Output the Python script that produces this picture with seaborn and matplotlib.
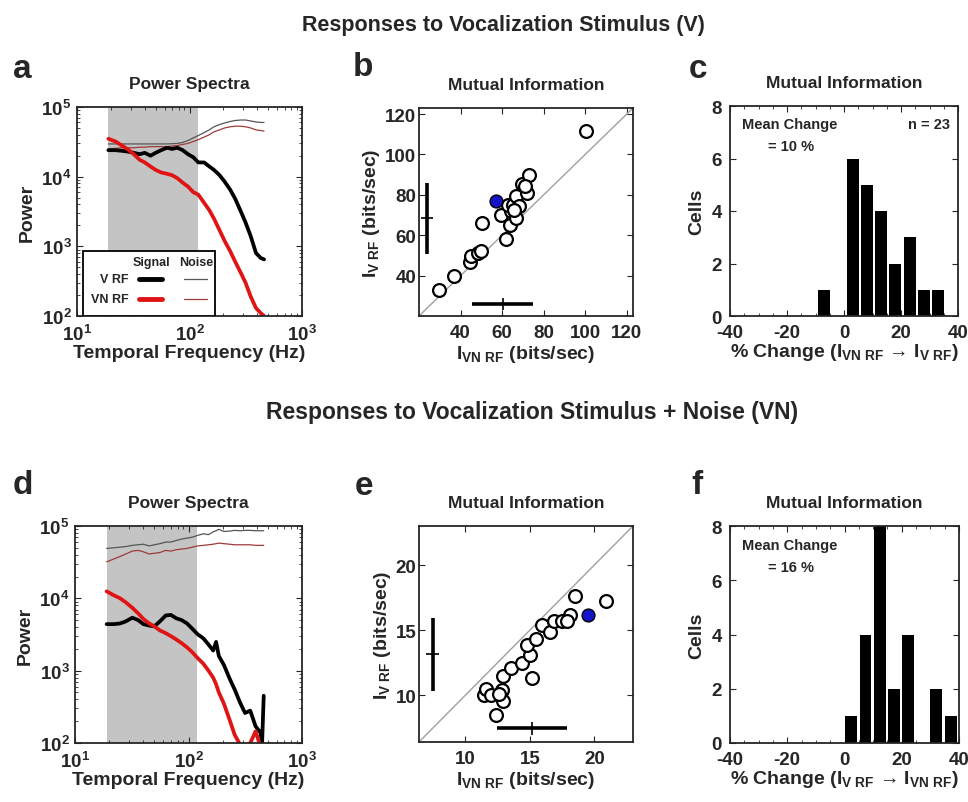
import numpy as np
import seaborn as sns
import matplotlib
matplotlib.use("Agg")
import matplotlib.pyplot as plt
from matplotlib.ticker import MultipleLocator, LogLocator

# ---- panel a: power spectra, vocalization stimulus (V)
freq_a = [19, 22, 25, 28, 32, 36, 40, 45, 50, 56, 63, 70, 78, 87, 97, 108, 120,
          135, 150, 165, 185, 205, 230, 255, 285, 315, 350, 390, 430, 460]
sig_v_a = [2.4e4, 2.4e4, 2.35e4, 2.3e4, 2.2e4, 2.1e4, 2.2e4, 2.0e4, 2.2e4, 2.4e4,
           2.6e4, 2.5e4, 2.6e4, 2.4e4, 2.1e4, 1.9e4, 1.6e4, 1.6e4, 1.4e4, 1.25e4,
           1.05e4, 8.5e3, 6.5e3, 4.8e3, 3.2e3, 2.2e3, 1.4e3, 8.0e2, 6.8e2, 6.5e2]
sig_vn_a = [3.5e4, 3.2e4, 2.8e4, 2.5e4, 2.1e4, 1.75e4, 1.6e4, 1.4e4, 1.25e4, 1.15e4,
            1.1e4, 1.05e4, 9.5e3, 8.2e3, 7.2e3, 6.0e3, 5.5e3, 4.2e3, 3.3e3, 2.5e3,
            1.7e3, 1.2e3, 8.5e2, 6.0e2, 4.2e2, 3.0e2, 1.9e2, 1.3e2, 1.1e2, 1.0e2]
noise_v_a = [2.95e4, 2.95e4, 2.95e4, 2.95e4, 2.95e4, 2.95e4, 2.95e4, 2.95e4, 2.95e4,
             2.95e4, 2.95e4, 2.97e4, 3.0e4, 3.1e4, 3.3e4, 3.6e4, 3.9e4, 4.3e4, 4.7e4,
             5.2e4, 5.6e4, 5.9e4, 6.2e4, 6.4e4, 6.5e4, 6.5e4, 6.3e4, 6.1e4, 6.0e4, 6.0e4]
noise_vn_a = [2.5e4, 2.55e4, 2.6e4, 2.6e4, 2.6e4, 2.65e4, 2.65e4, 2.7e4, 2.7e4, 2.7e4,
              2.7e4, 2.75e4, 2.8e4, 2.9e4, 3.0e4, 3.2e4, 3.4e4, 3.7e4, 4.0e4, 4.4e4,
              4.7e4, 5.0e4, 5.2e4, 5.3e4, 5.3e4, 5.2e4, 5.0e4, 4.7e4, 4.6e4, 4.5e4]

# ---- panel d: power spectra, vocalization + noise (VN)
freq_d = [19, 22, 25, 28, 32, 36, 40, 45, 50, 56, 63, 70, 78, 87, 97, 108, 120,
          135, 150, 165, 175, 185, 205, 230, 255, 285, 315, 350, 390, 430, 445, 460]
sig_v_d = [4.4e3, 4.4e3, 4.5e3, 4.8e3, 5.4e3, 5.0e3, 4.4e3, 4.2e3, 4.1e3, 4.8e3,
           5.8e3, 5.9e3, 5.3e3, 5.0e3, 4.5e3, 3.8e3, 3.2e3, 2.8e3, 2.3e3, 1.9e3,
           2.5e3, 1.6e3, 1.2e3, 7.8e2, 5.5e2, 3.6e2, 2.6e2, 2.8e2, 1.7e2, 1.4e2,
           1.0e2, 4.5e2]
sig_vn_d = [1.25e4, 1.1e4, 1.0e4, 8.8e3, 7.4e3, 6.2e3, 5.2e3, 4.5e3, 4.1e3, 3.6e3,
            3.3e3, 3.0e3, 2.7e3, 2.4e3, 2.1e3, 1.8e3, 1.5e3, 1.25e3, 1.0e3, 8.0e2,
            6.5e2, 5.0e2, 3.5e2, 2.1e2, 1.3e2, 9.5e1, 9.0e1, 1.0e2, 1.45e2, 9.0e1,
            9.0e1, 9.0e1]
noise_v_d = [4.9e4, 5.0e4, 5.1e4, 5.2e4, 5.4e4, 5.5e4, 5.6e4, 5.3e4, 5.5e4, 5.7e4,
             6.0e4, 6.0e4, 6.3e4, 6.6e4, 6.8e4, 7.0e4, 7.4e4, 7.8e4, 7.6e4, 8.3e4,
             8.6e4, 9.0e4, 8.4e4, 8.5e4, 8.7e4, 8.6e4, 8.7e4, 8.7e4, 8.6e4, 8.6e4,
             8.6e4, 8.6e4]
noise_vn_d = [3.2e4, 3.5e4, 3.8e4, 4.1e4, 4.5e4, 4.6e4, 4.4e4, 4.1e4, 4.2e4, 4.3e4,
              4.6e4, 4.5e4, 4.7e4, 4.8e4, 4.9e4, 5.1e4, 5.3e4, 5.4e4, 5.5e4, 5.6e4,
              5.7e4, 5.8e4, 5.7e4, 5.6e4, 5.5e4, 5.5e4, 5.5e4, 5.5e4, 5.4e4, 5.4e4,
              5.4e4, 5.4e4]
band = (19, 118)  # shaded frequency band

# ---- panel b: mutual information, V stimulus (bits/sec)
mi_vn_b = [29.4, 36.7, 44.6, 44.9, 48.2, 49.8, 50.2, 62.0, 63.7, 59.6, 64.5, 66.9,
           62.9, 65.3, 66.9, 71.8, 69.4, 73.1, 100.4, 68.0, 70.8, 65.8]
mi_v_b = [33.1, 39.7, 46.9, 49.8, 51.4, 52.2, 66.2, 58.0, 65.3, 70.2, 71.8, 68.6,
          75.1, 75.1, 79.5, 80.8, 85.4, 89.8, 111.8, 74.6, 84.6, 72.5]
blue_b = (57.1, 76.7)
mean_b = (60.2, 68.3)
sd_b = (14.6, 17.7)

# ---- panel e: mutual information, VN stimulus (bits/sec)
mi_vn_e = [11.43, 11.6, 11.95, 12.34, 12.86, 12.94, 12.94, 13.5, 14.4, 15.01, 14.75,
           15.19, 15.5, 15.97, 16.55, 16.88, 17.53, 18.1, 18.49, 20.9, 17.85, 12.6]
mi_v_e = [10.03, 10.5, 10.0, 8.47, 10.4, 9.57, 11.45, 12.06, 12.44, 13.05, 13.89,
          11.35, 14.33, 15.42, 14.83, 15.67, 15.67, 16.18, 17.63, 17.2, 15.7, 10.1]
blue_e = (19.48, 16.13)
mean_e = (15.17, 13.13)
sd_e = (2.7, 2.8)

# ---- panels c, f: histograms of % change
bins_c = [-7, -2, 3, 8, 13, 18, 23, 28, 33]
cells_c = [1, 0, 6, 5, 4, 2, 3, 1, 1]
bins_f = [2.4, 7.35, 12.3, 17.25, 22.2, 27.15, 32.1, 37.05]
cells_f = [1, 4, 8, 2, 4, 0, 2, 1]

sns.set_style("ticks")
plt.rcParams["font.family"] = ["Liberation Sans", "DejaVu Sans"]
plt.rcParams.update({
    "font.weight": "bold",
    "axes.labelweight": "bold",
    "axes.titleweight": "bold",
    "axes.unicode_minus": False,
    "mathtext.fontset": "custom",
    "mathtext.rm": "Liberation Sans:bold",
    "mathtext.it": "Liberation Sans:bold",
    "mathtext.bf": "Liberation Sans:bold",
    "mathtext.default": "rm",
    "axes.linewidth": 1.3,
    "xtick.direction": "in",
    "ytick.direction": "in",
    "xtick.top": True,
    "ytick.right": True,
    "xtick.major.size": 4,
    "ytick.major.size": 4,
    "xtick.minor.size": 2,
    "ytick.minor.size": 2,
    "xtick.major.pad": 6,
    "ytick.major.pad": 4,
    "xtick.labelsize": 13.5,
    "ytick.labelsize": 13.5,
    "axes.labelsize": 14,
    "axes.titlesize": 12.5,
})

W, H = 968, 803
fig = plt.figure(figsize=(W / 100, H / 100), dpi=100)


def box(x0, y0, x1, y1):
    return [x0 / W, 1 - y1 / H, (x1 - x0) / W, (y1 - y0) / H]


ax_a = fig.add_axes(box(77, 108, 302, 317))
ax_b = fig.add_axes(box(419, 109, 633, 317))
ax_c = fig.add_axes(box(730, 107, 958, 317))
ax_d = fig.add_axes(box(75, 527, 302, 744))
ax_e = fig.add_axes(box(419, 527, 633, 743))
ax_f = fig.add_axes(box(730, 527, 959, 744))

RED = "#e01414"
NOISE_V = "#555555"
NOISE_VN = "#a03a3a"


def spectra(ax, f, sv, svn, nv, nvn, legend=False):
    ax.axvspan(*band, color="#c4c4c4", lw=0, zorder=0)
    sns.lineplot(x=f, y=nv, ax=ax, color=NOISE_V, lw=0.9)
    sns.lineplot(x=f, y=nvn, ax=ax, color=NOISE_VN, lw=0.9)
    sns.lineplot(x=f, y=sv, ax=ax, color="black", lw=2.7)
    sns.lineplot(x=f, y=svn, ax=ax, color=RED, lw=2.7)
    ax.set_xscale("log")
    ax.set_yscale("log")
    ax.set_xlim(10, 1000)
    ax.set_ylim(1e2, 1e5)
    ax.xaxis.set_major_locator(LogLocator(base=10, numticks=5))
    ax.yaxis.set_major_locator(LogLocator(base=10, numticks=5))
    ax.set_xlabel("Temporal Frequency (Hz)", labelpad=0)
    ax.set_ylabel("Power", labelpad=4)
    ax.set_title("Power Spectra", pad=14)
    if legend:
        t = ax.transAxes
        ax.add_patch(plt.Rectangle((0.027, 0.0), 0.586, 0.311, transform=t,
                                   facecolor="white", edgecolor="black", lw=1.3,
                                   zorder=5))
        kw = dict(transform=t, fontsize=9, fontweight="bold", zorder=6,
                  va="center")
        ax.text(0.33, 0.258, "Signal", ha="center", **kw)
        ax.text(0.53, 0.258, "Noise", ha="center", **kw)
        ax.text(0.231, 0.177, "V RF", ha="right", **kw)
        ax.text(0.231, 0.081, "VN RF", ha="right", **kw)
        ax.plot([0.276, 0.378], [0.177, 0.177], color="black", lw=3.5,
                transform=t, zorder=6)
        ax.plot([0.276, 0.378], [0.081, 0.081], color=RED, lw=3.5,
                transform=t, zorder=6)
        ax.plot([0.476, 0.578], [0.177, 0.177], color=NOISE_V, lw=0.9,
                transform=t, zorder=6)
        ax.plot([0.476, 0.578], [0.081, 0.081], color=NOISE_VN, lw=0.9,
                transform=t, zorder=6)


def scatter(ax, x, y, blue, mean, sd, lims, ticks, bar_pos, tick_half):
    ax.plot(lims, lims, color="#a0a0a0", lw=1.0, zorder=1)
    sns.scatterplot(x=x, y=y, ax=ax, s=85, color="white", edgecolor="black",
                    linewidth=1.6, zorder=3)
    sns.scatterplot(x=[blue[0]], y=[blue[1]], ax=ax, s=85, color="#1414c8",
                    edgecolor="black", linewidth=1.0, zorder=4)
    ax.errorbar(bar_pos[0], mean[1], yerr=sd[1], color="black", lw=2.6)
    ax.errorbar(bar_pos[0], mean[1], xerr=tick_half, color="black", lw=1.2)
    ax.errorbar(mean[0], bar_pos[1], xerr=sd[0], color="black", lw=2.6)
    ax.errorbar(mean[0], bar_pos[1], yerr=tick_half, color="black", lw=1.2)
    ax.set_xlim(lims)
    ax.set_ylim(lims)
    ax.set_xticks(ticks)
    ax.set_yticks(ticks)
    ax.tick_params(axis="y", pad=2)
    ax.set_xlabel(r"$I_{VN\ RF}$ (bits/sec)", labelpad=1)
    ax.set_ylabel(r"$I_{V\ RF}$ (bits/sec)", labelpad=2)
    ax.set_title("Mutual Information", pad=14)


def hist(ax, centers, counts, xlabel, mean_txt, n_txt=None):
    width = centers[1] - centers[0]
    edges = [c - width / 2 for c in centers] + [centers[-1] + width / 2]
    sns.histplot(x=centers, weights=counts, bins=edges, shrink=0.84, ax=ax,
                 color="black", edgecolor="black", alpha=1, linewidth=0)
    ax.set_xlim(-40, 40)
    ax.set_ylim(0, 8)
    ax.set_xticks([-40, -20, 0, 20, 40])
    ax.xaxis.set_minor_locator(MultipleLocator(5))
    ax.set_yticks([0, 2, 4, 6, 8])
    ax.tick_params(axis="y", pad=6)
    ax.set_ylabel("Cells", labelpad=4)
    ax.set_xlabel(xlabel, labelpad=0)
    ax.set_title("Mutual Information", pad=14)
    ax.text(0.053, 0.914, "Mean Change", transform=ax.transAxes, fontsize=10.5,
            ha="left", va="center")
    ax.text(0.167, 0.81, mean_txt, transform=ax.transAxes, fontsize=10.5,
            ha="left", va="center")
    if n_txt:
        ax.text(0.965, 0.914, n_txt, transform=ax.transAxes, fontsize=10.5,
                ha="right", va="center")


spectra(ax_a, freq_a, sig_v_a, sig_vn_a, noise_v_a, noise_vn_a, legend=True)
spectra(ax_d, freq_d, sig_v_d, sig_vn_d, noise_v_d, noise_vn_d)
scatter(ax_b, mi_vn_b, mi_v_b, blue_b, mean_b, sd_b, (20, 123),
        [40, 60, 80, 100, 120], (23.7, 26.1), 2.9)
scatter(ax_e, mi_vn_e, mi_v_e, blue_e, mean_e, sd_e, (6.4, 23.0),
        [10, 15, 20], (7.45, 7.46), 0.5)
hist(ax_c, bins_c, cells_c, "% Change ($I_{VN\\ RF}$ \u2192 $I_{V\\ RF}$)",
     "= 10 %", "n = 23")
hist(ax_f, bins_f, cells_f, "% Change ($I_{V\\ RF}$ \u2192 $I_{VN\\ RF}$)",
     "= 16 %")

fig.text(503 / W, 1 - 25 / H, "Responses to Vocalization Stimulus (V)",
         ha="center", va="center", fontsize=15.5, fontweight="bold")
fig.text(532 / W, 1 - 413 / H, "Responses to Vocalization Stimulus + Noise (VN)",
         ha="center", va="center", fontsize=16.5, fontweight="bold")
for lab, (px, py) in zip("abcdef", [(22, 69), (363, 67), (698, 70),
                                    (23, 486), (364, 487), (697, 486)]):
    fig.text(px / W, 1 - py / H, lab, ha="center", va="center", fontsize=24,
             fontweight="bold")

fig.savefig("out.png", dpi=100)
